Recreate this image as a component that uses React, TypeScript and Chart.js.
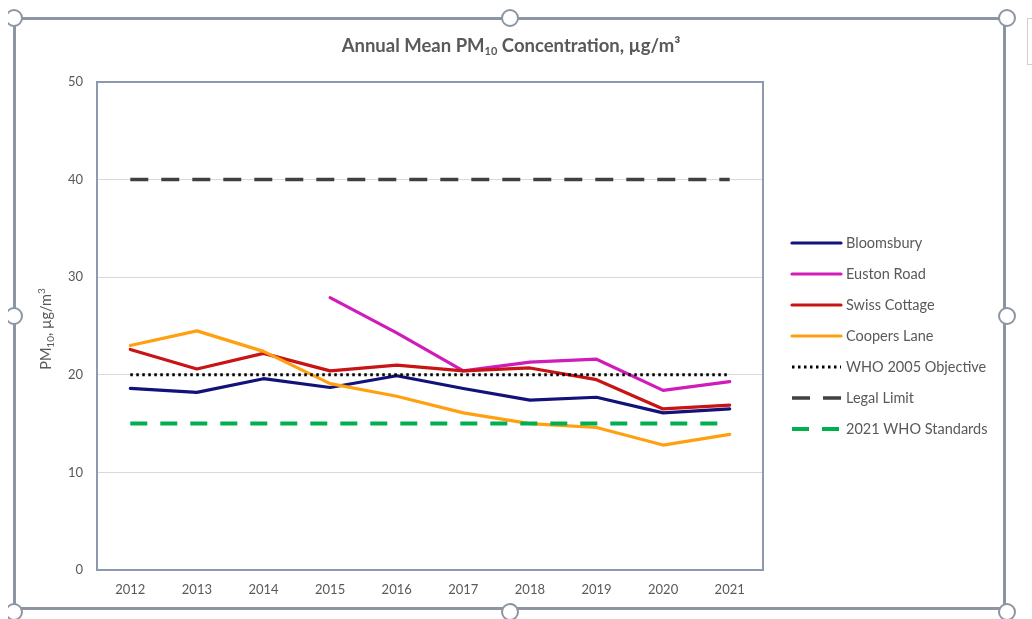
import React, { useEffect, useRef } from "react";
import { Chart, registerables } from "chart.js";

Chart.register(...registerables);

const years = ["2012", "2013", "2014", "2015", "2016", "2017", "2018", "2019", "2020", "2021"];
const bloomsbury = [18.6, 18.2, 19.6, 18.7, 19.9, 18.6, 17.4, 17.7, 16.1, 16.5];
const eustonRoad = [null, null, null, 27.9, 24.3, 20.4, 21.3, 21.6, 18.4, 19.3];
const swissCottage = [22.6, 20.6, 22.2, 20.4, 21.0, 20.4, 20.7, 19.5, 16.5, 16.9];
const coopersLane = [23.0, 24.5, 22.4, 19.1, 17.8, 16.1, 15.0, 14.6, 12.8, 13.9];
const who2005Objective = [20, 20, 20, 20, 20, 20, 20, 20, 20, 20];
const legalLimit = [40, 40, 40, 40, 40, 40, 40, 40, 40, 40];
const who2021Standards = [15, 15, 15, 15, 15, 15, 15, 15, 15, 15];
const yMin = 0;
const yMax = 50;
const yStep = 10;

const FONT = "Lato, 'Liberation Sans', sans-serif";
const TEXT = "#595959";

const plotBorder = {
  id: "plotBorder",
  beforeDatasetsDraw(chart: any) {
    const { ctx, chartArea } = chart;
    ctx.save();
    ctx.strokeStyle = "#8D9AAE";
    ctx.lineWidth = 2;
    ctx.strokeRect(chartArea.left, chartArea.top, chartArea.right - chartArea.left, chartArea.bottom - chartArea.top);
    ctx.restore();
  },
};

const titles = {
  id: "titles",
  afterDraw(chart: any) {
    const ctx = chart.ctx;
    ctx.save();
    ctx.fillStyle = TEXT;
    ctx.textBaseline = "alphabetic";
    const big = `bold 18.5px ${FONT}`;
    const small = `bold 11px ${FONT}`;
    const p1 = "Annual Mean PM";
    const p2 = "10";
    const p3 = " Concentration, µg/m³";
    ctx.font = big;
    const w1 = ctx.measureText(p1).width;
    const w3 = ctx.measureText(p3).width;
    ctx.font = small;
    const w2 = ctx.measureText(p2).width;
    const total = w1 + w2 + w3;
    let x = 511 - total / 2;
    const base = 52;
    ctx.font = big;
    ctx.fillText(p1, x, base);
    x += w1;
    ctx.font = small;
    ctx.fillText(p2, x, base + 3);
    x += w2;
    ctx.font = big;
    ctx.fillText(p3, x, base);

    const ca = chart.chartArea;
    ctx.translate(51, (ca.top + ca.bottom) / 2 + 3);
    ctx.rotate(-Math.PI / 2);
    const yb = `14.5px ${FONT}`;
    const ys = `10px ${FONT}`;
    const q1 = "PM";
    const q2 = "10";
    const q3 = ", µg/m";
    const q4 = "3";
    ctx.font = yb;
    const a1 = ctx.measureText(q1).width;
    const a3 = ctx.measureText(q3).width;
    ctx.font = ys;
    const a2 = ctx.measureText(q2).width;
    const a4 = ctx.measureText(q4).width;
    let tx = -(a1 + a2 + a3 + a4) / 2;
    ctx.font = yb;
    ctx.fillText(q1, tx, 0);
    tx += a1;
    ctx.font = ys;
    ctx.fillText(q2, tx, 3);
    tx += a2;
    ctx.font = yb;
    ctx.fillText(q3, tx, 0);
    tx += a3;
    ctx.font = ys;
    ctx.fillText(q4, tx, -6);
    ctx.restore();
  },
};

const sideLegend = {
  id: "sideLegend",
  afterDraw(chart: any) {
    const ctx = chart.ctx;
    const x0 = chart.chartArea.right + 29;
    const top = 243;
    const gap = 31;
    chart.data.datasets.forEach((ds: any, i: number) => {
      const y = top + i * gap;
      ctx.save();
      ctx.strokeStyle = ds.borderColor;
      ctx.lineWidth = ds.borderWidth;
      ctx.lineCap = ds.borderCapStyle || "butt";
      ctx.setLineDash(ds.borderDash || []);
      ctx.beginPath();
      ctx.moveTo(x0, y);
      ctx.lineTo(x0 + 49, y);
      ctx.stroke();
      ctx.setLineDash([]);
      ctx.fillStyle = TEXT;
      ctx.font = `14.5px ${FONT}`;
      ctx.textBaseline = "middle";
      ctx.textAlign = "left";
      ctx.fillText(ds.label, x0 + 54, y);
      ctx.restore();
    });
  },
};

function solid(label: string, data: (number | null)[], color: string, order: number) {
  return {
    label,
    data,
    borderColor: color,
    backgroundColor: color,
    borderWidth: 3.2,
    borderCapStyle: "round",
    borderJoinStyle: "round",
    pointRadius: 0,
    tension: 0,
    order,
  };
}

function dashed(label: string, data: number[], color: string, dash: number[], width: number, order: number) {
  return {
    label,
    data,
    borderColor: color,
    backgroundColor: color,
    borderWidth: width,
    borderDash: dash,
    borderCapStyle: "butt",
    pointRadius: 0,
    tension: 0,
    order,
  };
}

export default function App() {
  const ref = useRef<HTMLCanvasElement | null>(null);
  useEffect(() => {
    if (!ref.current) return;
    const chart = new Chart(ref.current, {
      type: "line",
      data: {
        labels: years,
        datasets: [
          solid("Bloomsbury", bloomsbury, "#12127A", 7),
          solid("Euston Road", eustonRoad, "#D01CB8", 6),
          solid("Swiss Cottage", swissCottage, "#C81414", 5),
          solid("Coopers Lane", coopersLane, "#FFA010", 4),
          dashed("WHO 2005 Objective", who2005Objective, "#000000", [2.5, 3.5], 3, 3),
          dashed("Legal Limit", legalLimit, "#404040", [18, 13], 3.5, 2),
          dashed("2021 WHO Standards", who2021Standards, "#00B050", [17, 13], 4, 1),
        ] as any,
      },
      options: {
        responsive: false,
        animation: false,
        devicePixelRatio: 1,
        layout: { padding: { left: 0, top: 82, right: 269, bottom: 0 } },
        plugins: { legend: { display: false }, title: { display: false }, tooltip: { enabled: false } },
        scales: {
          x: {
            type: "category",
            offset: true,
            grid: { display: false, drawTicks: false },
            border: { display: false },
            ticks: { color: TEXT, font: { family: FONT, size: 13 }, padding: 12, maxRotation: 0 },
            afterFit(scale: any) {
              scale.height = 49;
            },
          },
          y: {
            min: yMin,
            max: yMax,
            grid: { color: "#D9D9D9", lineWidth: 1, drawTicks: false },
            border: { display: false },
            ticks: { stepSize: yStep, color: TEXT, font: { family: FONT, size: 13 }, padding: 14 },
            afterFit(scale: any) {
              scale.width = 97;
            },
          },
        },
      } as any,
      plugins: [plotBorder, titles, sideLegend],
    });
    return () => chart.destroy();
  }, []);

  const handle = (left: number, top: number) => (
    <div
      style={{
        position: "absolute",
        left: left - 9,
        top: top - 9,
        width: 14,
        height: 14,
        borderRadius: "50%",
        border: "2px solid #8C96A3",
        background: "#fff",
      }}
    />
  );

  return (
    <div style={{ position: "fixed", left: 0, top: 0, width: 1032, height: 619, background: "#fff", overflow: "hidden" }}>
      <canvas ref={ref} width={1032} height={619} style={{ position: "absolute", left: 0, top: 0 }} />
      <div
        style={{
          position: "absolute",
          left: 13,
          top: 17,
          width: 993,
          height: 593,
          border: "3px solid #8C96A3",
          boxSizing: "border-box",
          pointerEvents: "none",
        }}
      />
      <div style={{ position: "absolute", left: 1027, top: 18, width: 10, height: 45, border: "1px solid #D0D0D0" }} />
      {handle(14, 18)}
      {handle(510, 18)}
      {handle(1007, 18)}
      {handle(14, 316)}
      {handle(1007, 316)}
      {handle(14, 612)}
      {handle(510, 612)}
      {handle(1007, 612)}
      <div style={{ position: "absolute", left: 0, top: 0, width: 8, height: 619, background: "#fff" }} />
    </div>
  );
}
